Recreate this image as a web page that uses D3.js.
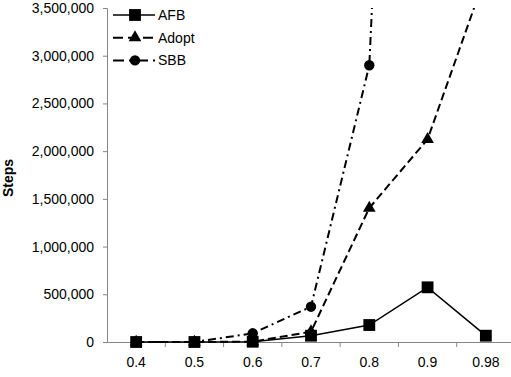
<!DOCTYPE html>
<html>
<head>
<meta charset="utf-8">
<script src="https://cdn.jsdelivr.net/npm/d3@7"></script>
<style>
  body { margin: 0; background: #fff; }
  text { font-family: "Liberation Sans", Arial, sans-serif; fill: #000; }
</style>
</head>
<body>
<script>
const categories = ['0.4', '0.5', '0.6', '0.7', '0.8', '0.9', '0.98'];
const afbSteps = [0, 0, 3000, 66000, 178000, 573000, 66000];
const adoptSteps = [0, 0, 3000, 108000, 1404000, 2124000, 3850000];
const sbbSteps = [0, 0, 91000, 370000, 2900000, 16000000, null];
const yTicks = [0, 500000, 1000000, 1500000, 2000000, 2500000, 3000000, 3500000];

const width = 511;
const height = 377;
const plotLeft = 107, plotTop = 8, plotBottom = 342, plotRight = 515;

const svg = d3.select('body')
    .append('svg')
    .attr('width', width)
    .attr('height', height);

const x = d3.scaleBand().domain(categories).range([plotLeft, plotRight]);
const y = d3.scaleLinear().domain([0, 3500000]).range([plotBottom, plotTop]);
const cx = d => x(d) + x.bandwidth() / 2;

// axes
const yAxis = svg.append('g')
    .attr('transform', `translate(${plotLeft},0)`)
    .call(d3.axisLeft(y).tickValues(yTicks).tickSize(4).tickPadding(9).tickFormat(d3.format(',')));
const xAxis = svg.append('g')
    .attr('transform', `translate(0,${plotBottom})`)
    .call(d3.axisBottom(x).tickSize(0).tickPadding(15));
[yAxis, xAxis].forEach(a => {
    a.select('.domain').attr('stroke', '#868686');
    a.selectAll('.tick line').attr('stroke', '#868686');
    a.selectAll('text').style('font-size', '14px').attr('fill', '#000');
});
// category boundary ticks
xAxis.selectAll('line.sep')
    .data(categories.slice(1))
    .join('line')
    .attr('class', 'sep')
    .attr('x1', d => x(d)).attr('x2', d => x(d))
    .attr('y1', 0).attr('y2', 5)
    .attr('stroke', '#868686');

svg.append('text')
    .attr('transform', `translate(13,${(plotTop + plotBottom) / 2 + 3}) rotate(-90)`)
    .attr('text-anchor', 'middle')
    .style('font-size', '14px')
    .style('font-weight', 'bold')
    .text('Steps');

svg.append('clipPath').attr('id', 'plot')
    .append('rect').attr('x', plotLeft).attr('y', plotTop)
    .attr('width', plotRight - plotLeft).attr('height', plotBottom - plotTop + 10);

const series = [
    { name: 'SBB', values: sbbSteps, dash: '8,4,2,4', width: 2, marker: 'circle' },
    { name: 'Adopt', values: adoptSteps, dash: '8,4', width: 2, marker: 'triangle' },
    { name: 'AFB', values: afbSteps, dash: null, width: 1.5, marker: 'square' }
];

const symbols = {
    circle: d3.symbol(d3.symbolCircle, 85),
    triangle: d3.symbol(d3.symbolTriangle, 70),
    square: d3.symbol(d3.symbolSquare, 140)
};

const line = d3.line()
    .defined(d => d.v != null)
    .x(d => cx(d.c))
    .y(d => y(d.v));

const plot = svg.append('g').attr('clip-path', 'url(#plot)');

series.forEach(s => {
    const pts = categories.map((c, i) => ({ c, v: s.values[i] }));
    plot.append('path')
        .datum(pts)
        .attr('d', line)
        .attr('fill', 'none')
        .attr('stroke', '#000')
        .attr('stroke-width', s.width)
        .attr('stroke-dasharray', s.dash);
    plot.selectAll(null)
        .data(pts.filter(d => d.v != null))
        .join('path')
        .attr('transform', d => `translate(${cx(d.c)},${y(d.v)})`)
        .attr('d', symbols[s.marker])
        .attr('fill', '#000');
});

// legend
const legendItems = [
    { name: 'AFB', dash: null, width: 1.5, marker: 'square' },
    { name: 'Adopt', dash: '10,5', width: 2, marker: 'triangle' },
    { name: 'SBB', dash: '11,5,3,5', width: 2, marker: 'circle' }
];
const legend = svg.append('g').attr('transform', 'translate(113,15)');
const rows = legend.selectAll('g')
    .data(legendItems)
    .join('g')
    .attr('transform', (d, i) => `translate(0,${i * 22.7})`);
rows.append('line')
    .attr('x1', 0).attr('x2', 42)
    .attr('stroke', '#000')
    .attr('stroke-width', d => d.width)
    .attr('stroke-dasharray', d => d.dash);
rows.append('path')
    .attr('transform', 'translate(22,0)')
    .attr('d', d => symbols[d.marker]());
rows.append('text')
    .attr('x', 45)
    .attr('dy', '0.36em')
    .style('font-size', '14px')
    .text(d => d.name);
</script>
</body>
</html>
